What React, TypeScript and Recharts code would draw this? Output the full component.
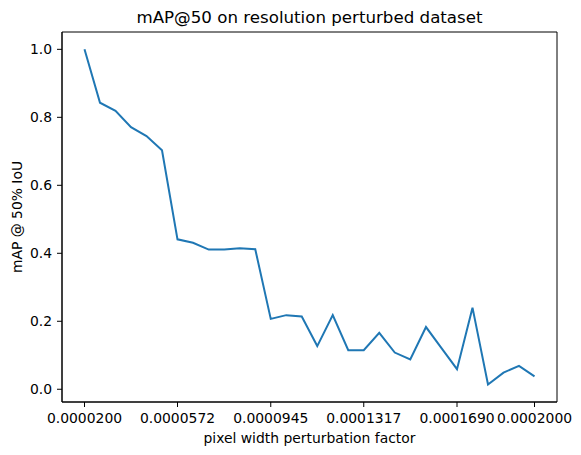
import { LineChart, Line, XAxis, YAxis, ReferenceArea, Label } from 'recharts'

// pixel width perturbation factors (30 evenly spaced steps)
const perturbationFactors = [
  0.00002, 0.0000262, 0.0000324, 0.0000386, 0.0000448, 0.000051,
  0.0000572, 0.0000634, 0.0000697, 0.0000759, 0.0000821, 0.0000883,
  0.0000945, 0.0001007, 0.0001069, 0.0001131, 0.0001193, 0.0001255,
  0.0001317, 0.0001379, 0.0001441, 0.0001503, 0.0001566, 0.0001628,
  0.000169, 0.0001752, 0.0001814, 0.0001876, 0.0001938, 0.0002,
]

// mAP @ 50% IoU
const mapValues = [
  1.0, 0.843, 0.819, 0.771, 0.745, 0.703,
  0.441, 0.431, 0.411, 0.411, 0.415, 0.412,
  0.207, 0.218, 0.214, 0.127, 0.218, 0.115,
  0.115, 0.166, 0.108, 0.088, 0.183, 0.121,
  0.059, 0.24, 0.014, 0.049, 0.069, 0.038,
]

const xTicks = [0.00002, 0.0000572, 0.0000945, 0.0001317, 0.000169, 0.0002]
const yTicks = [0, 0.2, 0.4, 0.6, 0.8, 1.0]

const X_DOMAIN: [number, number] = [0.000011, 0.000209]
const Y_DOMAIN: [number, number] = [-0.0375, 1.051]

const FONT = '"DejaVu Sans", sans-serif'
const LINE_COLOR = '#1f77b4'

const data = perturbationFactors.map((x, i) => ({ x, map: mapValues[i] }))

function YTitle({ viewBox }: any) {
  const cx = 17
  const cy = viewBox.y + viewBox.height / 2
  return (
    <text
      x={cx}
      y={cy}
      transform={`rotate(-90 ${cx} ${cy})`}
      textAnchor="middle"
      dominantBaseline="central"
      fontFamily={FONT}
      fontSize={13.9}
      fill="#000"
    >
      mAP @ 50% IoU
    </text>
  )
}

export default function App() {
  return (
    <div
      style={{
        position: 'absolute',
        left: 0,
        top: 0,
        width: 581,
        height: 455,
        background: '#fff',
        fontFamily: FONT,
      }}
    >
      <div
        style={{
          position: 'absolute',
          left: 62,
          width: 495,
          top: 8,
          textAlign: 'center',
          fontSize: 16.67,
          lineHeight: '20px',
          color: '#000',
        }}
      >
        mAP@50 on resolution perturbed dataset
      </div>
      <LineChart
        width={581}
        height={455}
        data={data}
        margin={{ top: 32, right: 24, left: 0, bottom: 0 }}
      >
        <XAxis
          dataKey="x"
          type="number"
          domain={X_DOMAIN}
          ticks={xTicks}
          allowDataOverflow
          height={53}
          tickFormatter={(v: number) => v.toFixed(7)}
          tick={{ fontSize: 13.9, fill: '#000', fontFamily: FONT }}
          tickSize={5}
          tickMargin={6}
          stroke="#000"
          interval={0}
        >
          <Label
            value="pixel width perturbation factor"
            position="insideBottom"
            offset={12}
            style={{ fontSize: 13.9, fill: '#000', fontFamily: FONT }}
          />
        </XAxis>
        <YAxis
          type="number"
          domain={Y_DOMAIN}
          ticks={yTicks}
          allowDataOverflow
          width={62}
          tickFormatter={(v: number) => v.toFixed(1)}
          tick={{ fontSize: 13.9, fill: '#000', fontFamily: FONT }}
          tickSize={5}
          tickMargin={5}
          stroke="#000"
          interval={0}
        >
          <Label content={<YTitle />} />
        </YAxis>
        <ReferenceArea
          x1={X_DOMAIN[0]}
          x2={X_DOMAIN[1]}
          y1={Y_DOMAIN[0]}
          y2={Y_DOMAIN[1]}
          fill="none"
          stroke="#000"
          strokeWidth={1}
          ifOverflow="visible"
        />
        <Line
          type="linear"
          dataKey="map"
          stroke={LINE_COLOR}
          strokeWidth={2}
          dot={false}
          isAnimationActive={false}
        />
      </LineChart>
    </div>
  )
}
